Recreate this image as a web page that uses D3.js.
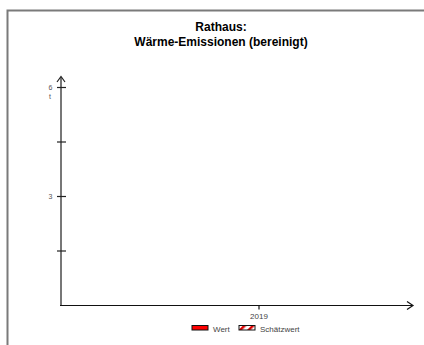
<!DOCTYPE html>
<html>
<head>
<meta charset="utf-8">
<script src="https://cdn.jsdelivr.net/npm/d3@7"></script>
<style>
  body { margin: 0; background: #fff; }
  text { font-family: "Liberation Sans", Arial, sans-serif; }
</style>
</head>
<body>
<script>
const width = 424, height = 345;

// data
const titleLines = ['Rathaus:', 'Wärme-Emissionen (bereinigt)'];
const years = ['2019'];
const wert = [0];
const schaetzwert = [0];
const yTicks = [0, 1.5, 3, 4.5, 6];
const yLabels = [3, 6];
const unit = 't';
const legendNames = ['Wert', 'Schätzwert'];

const svg = d3.select('body').append('svg')
  .attr('width', width).attr('height', height);

const defs = svg.append('defs');
const pat = defs.append('pattern')
  .attr('id', 'hatch').attr('patternUnits', 'userSpaceOnUse')
  .attr('width', 6).attr('height', 6)
  .attr('patternTransform', 'rotate(-45)');
pat.append('rect').attr('width', 6).attr('height', 6).attr('fill', '#fff');
pat.append('rect').attr('width', 6).attr('height', 2.5).attr('fill', '#e00000');

// frame
svg.append('path')
  .attr('d', `M7.5,${height} V10.5 H${width}`)
  .attr('fill', 'none').attr('stroke', '#7a7a7a').attr('stroke-width', 2);

// title
svg.append('text')
  .attr('x', 221).attr('text-anchor', 'middle')
  .attr('font-size', 12).attr('font-weight', 'bold')
  .selectAll('tspan').data(titleLines).enter().append('tspan')
  .attr('x', 221).attr('y', (d, i) => 31 + i * 14.5)
  .text(d => d);

// scales
const x0 = 61, y0 = 305.5;
const x = d3.scaleBand().domain(years).range([160, 358]).padding(0.3);
const y = d3.scaleLinear().domain([0, 6]).range([y0, 87.5]);

// bars (Wert, Schätzwert)
const bars = svg.append('g');
bars.selectAll('.wert').data(years).enter().append('rect')
  .attr('x', d => x(d))
  .attr('width', x.bandwidth() / 2)
  .attr('y', (d, i) => y(wert[i]))
  .attr('height', (d, i) => y(0) - y(wert[i]))
  .attr('fill', '#ff0000');
bars.selectAll('.schaetz').data(years).enter().append('rect')
  .attr('x', d => x(d) + x.bandwidth() / 2)
  .attr('width', x.bandwidth() / 2)
  .attr('y', (d, i) => y(schaetzwert[i]))
  .attr('height', (d, i) => y(0) - y(schaetzwert[i]))
  .attr('fill', 'url(#hatch)');

// y axis
const gy = svg.append('g').attr('transform', `translate(${x0},0)`);
gy.append('line')
  .attr('y1', y0).attr('y2', 77)
  .attr('stroke', '#555').attr('stroke-width', 1.6);
gy.append('path')
  .attr('d', 'M-4,82 L0,76.5 L4,82')
  .attr('fill', 'none').attr('stroke', '#222').attr('stroke-width', 1.2);
gy.selectAll('.tick').data(yTicks.filter(d => d > 0)).enter().append('line')
  .attr('x1', -4).attr('x2', 5)
  .attr('y1', d => y(d)).attr('y2', d => y(d))
  .attr('stroke', '#222').attr('stroke-width', 1.2);
gy.selectAll('.lbl').data(yLabels).enter().append('text')
  .attr('x', -8.5).attr('y', d => y(d) + 2.5)
  .attr('text-anchor', 'end').attr('font-size', 7).attr('fill', '#555')
  .text(d => d);
gy.append('text')
  .attr('x', -10).attr('y', y(6) + 11)
  .attr('text-anchor', 'end').attr('font-size', 7).attr('fill', '#555')
  .text(unit);

// x axis
const gx = svg.append('g');
gx.append('line')
  .attr('x1', x0 - 1).attr('x2', 412)
  .attr('y1', y0).attr('y2', y0)
  .attr('stroke', '#111').attr('stroke-width', 1.2);
gx.append('path')
  .attr('d', `M407,${y0 - 4} L413,${y0} L407,${y0 + 4}`)
  .attr('fill', 'none').attr('stroke', '#111').attr('stroke-width', 1.2);
gx.selectAll('.tick').data(years).enter().append('line')
  .attr('x1', d => x(d) + x.bandwidth() / 2).attr('x2', d => x(d) + x.bandwidth() / 2)
  .attr('y1', y0).attr('y2', y0 + 4)
  .attr('stroke', '#111').attr('stroke-width', 1.2);
gx.selectAll('.lbl').data(years).enter().append('text')
  .attr('x', d => x(d) + x.bandwidth() / 2).attr('y', 318.5)
  .attr('text-anchor', 'middle').attr('font-size', 8).attr('fill', '#444')
  .text(d => d);

// legend
const legend = svg.append('g');
const lx = [192, 239];
legend.selectAll('rect').data(legendNames).enter().append('rect')
  .attr('x', (d, i) => lx[i]).attr('y', 325.5)
  .attr('width', 16).attr('height', 4.5)
  .attr('fill', (d, i) => i === 0 ? '#ff0000' : 'url(#hatch)')
  .attr('stroke', '#111').attr('stroke-width', 1);
legend.selectAll('text').data(legendNames).enter().append('text')
  .attr('x', (d, i) => lx[i] + 21).attr('y', 331.5)
  .attr('font-size', 8).attr('fill', '#444')
  .text(d => d);
</script>
</body>
</html>
